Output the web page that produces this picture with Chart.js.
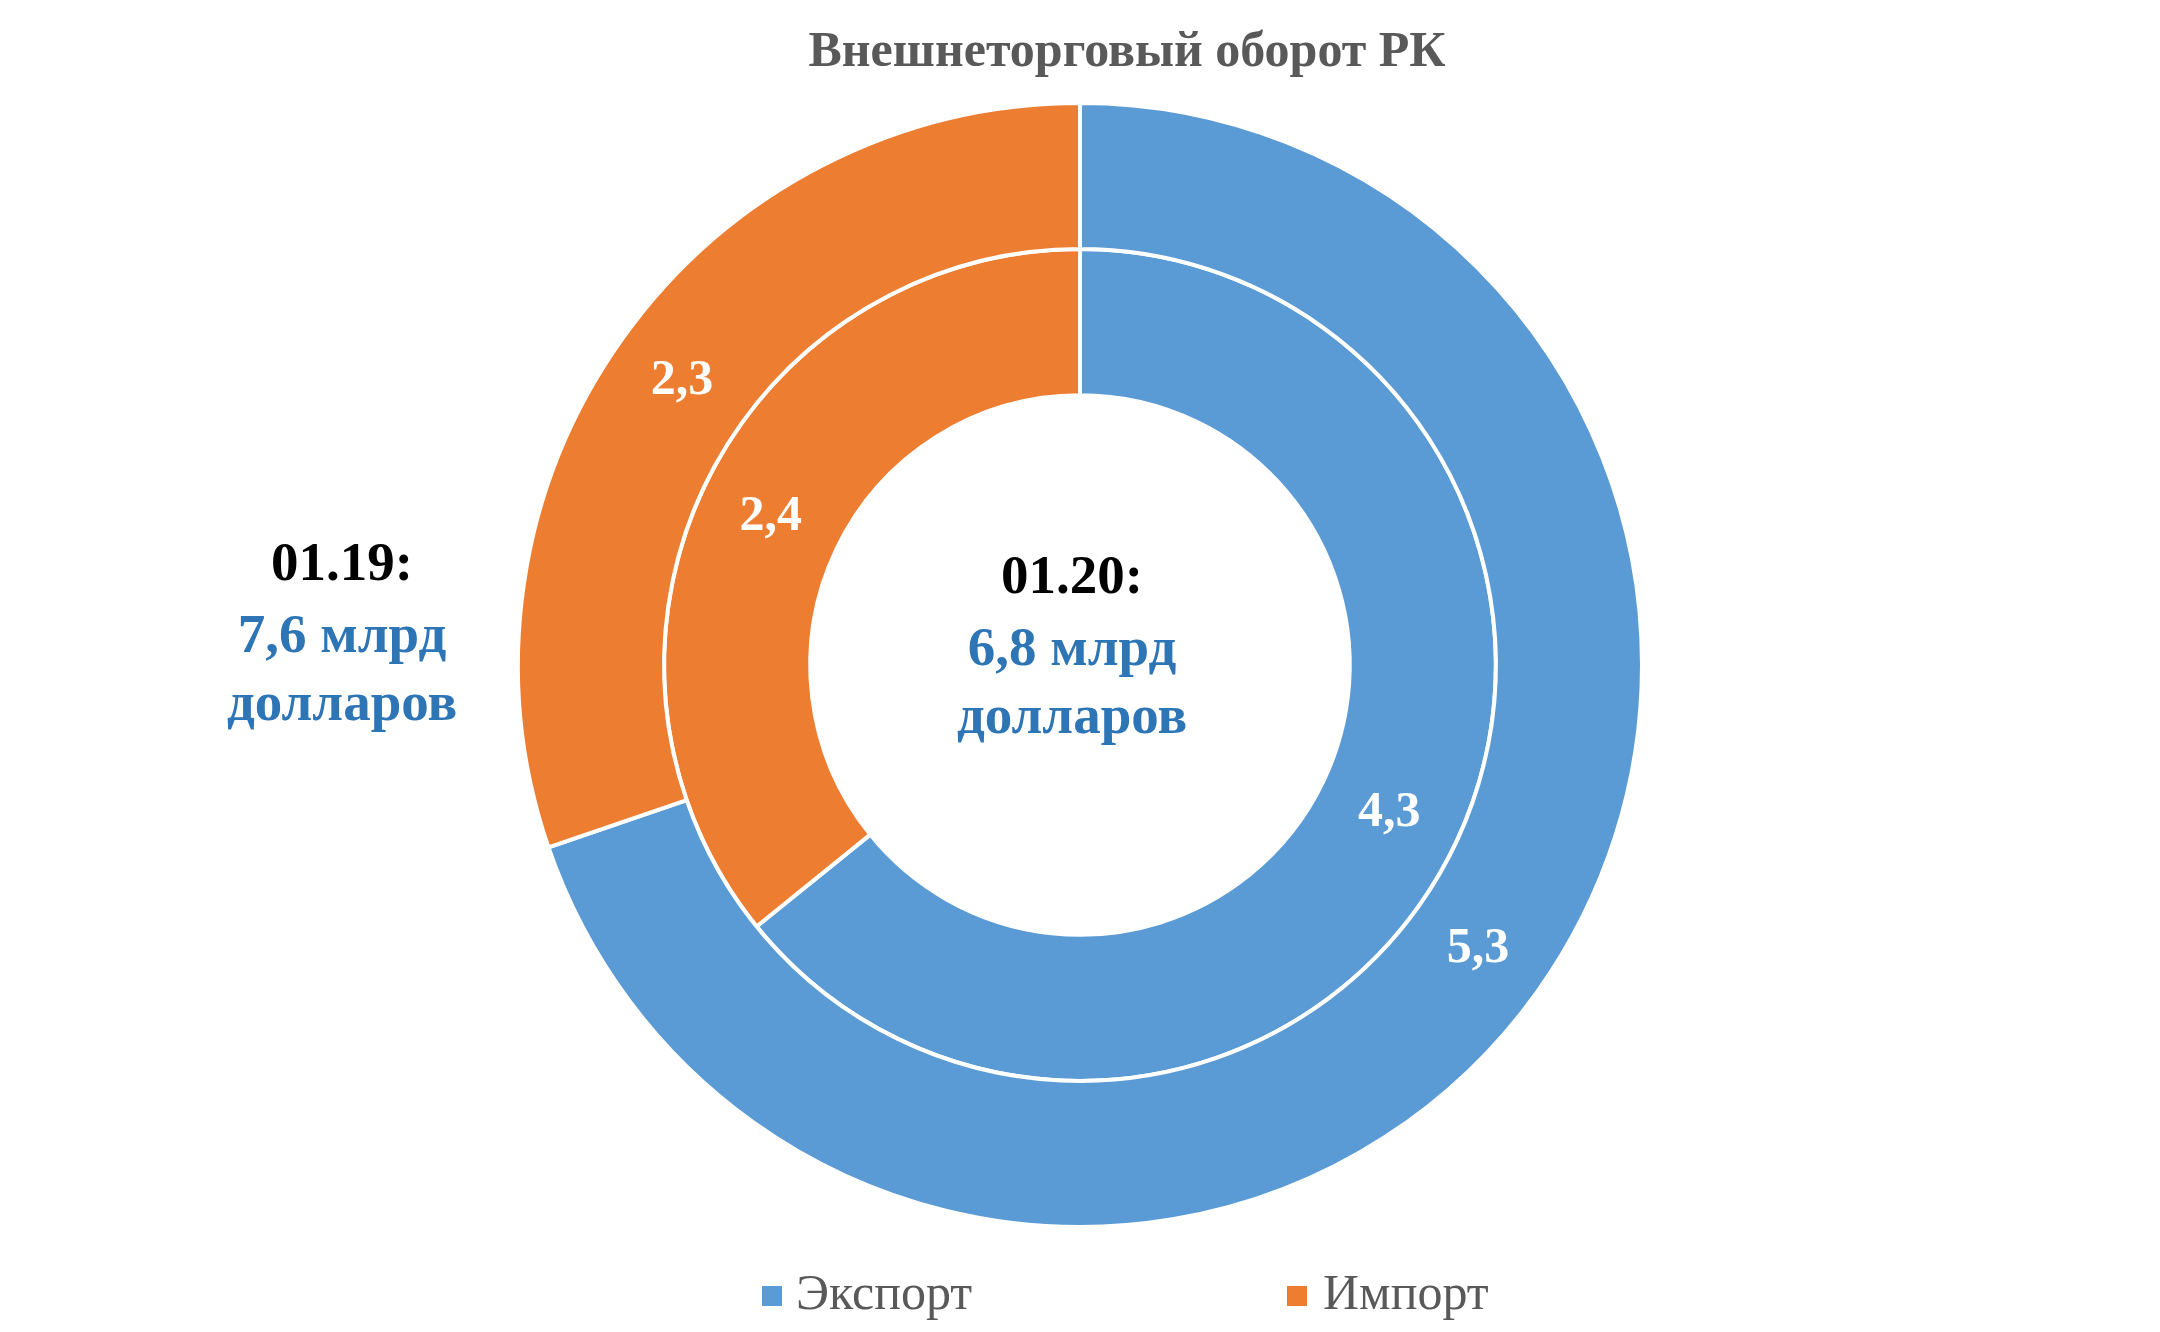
<!DOCTYPE html>
<html><head><meta charset="utf-8">
<script src="https://cdn.jsdelivr.net/npm/chart.js@4"></script>
<style>html,body{margin:0;padding:0;background:#fff}#w{width:2160px;height:1332px}</style>
</head><body><div id="w"><canvas id="c"></canvas></div>
<script>
const categories = ["Экспорт", "Импорт"];
const values2019 = [5.3, 2.3];
const values2020 = [4.3, 2.4];
const labels2019 = ["5,3", "2,3"];
const labels2020 = ["4,3", "2,4"];
const colors = ["#5B9BD5", "#ED7D31"];
const titleText = "Внешнеторговый оборот РК";

const F = '"Liberation Serif", "DejaVu Serif", serif';
const plugin = {
  id: 'custom',
  afterDatasetsDraw(chart) {
    const ctx = chart.ctx;
    ctx.save();
    ctx.textAlign = 'center'; ctx.textBaseline = 'middle';
    ctx.fillStyle = '#fff';
    ctx.font = 'bold 50px ' + F;
    const lbls = [labels2019, labels2020];
    chart.data.datasets.forEach((ds, di) => {
      chart.getDatasetMeta(di).data.forEach((arc, i) => {
        const p = arc.getCenterPoint();
        ctx.fillText(lbls[di][i], p.x, p.y);
      });
    });
    // title
    ctx.fillStyle = '#595959';
    ctx.font = 'bold 50px ' + F;
    ctx.fillText(titleText, 1127, 53);
    // annotations
    ctx.font = 'bold 55px ' + F;
    const blk = (x, y, a, b, c) => {
      ctx.fillStyle = '#000'; ctx.fillText(a, x, y);
      ctx.fillStyle = '#2E75B6'; ctx.fillText(b, x, y + 72); ctx.fillText(c, x, y + 140);
    };
    blk(342, 566, '01.19:', '7,6 млрд', 'долларов');
    blk(1072, 579, '01.20:', '6,8 млрд', 'долларов');
    // legend
    ctx.font = '50px ' + F; ctx.textAlign = 'left';
    const leg = [[762, 796], [1287, 1323]];
    categories.forEach((c, i) => {
      ctx.fillStyle = colors[i];
      ctx.fillRect(leg[i][0], 1286, 20, 20);
      ctx.fillStyle = '#595959';
      ctx.fillText(c, leg[i][1], 1296);
    });
    ctx.restore();
  }
};

new Chart(document.getElementById('c'), {
  type: 'doughnut',
  data: {
    labels: categories,
    datasets: [
      { data: values2019, backgroundColor: colors, borderColor: '#fff', borderWidth: 4 },
      { data: values2020, backgroundColor: colors, borderColor: '#fff', borderWidth: 4 }
    ]
  },
  options: {
    responsive: true, maintainAspectRatio: false, animation: false,
    cutout: '48%',
    layout: { padding: { top: 101, bottom: 103, left: 0, right: 0 } },
    plugins: { legend: { display: false }, title: { display: false }, tooltip: { enabled: false } }
  },
  plugins: [plugin]
});
</script></body></html>
